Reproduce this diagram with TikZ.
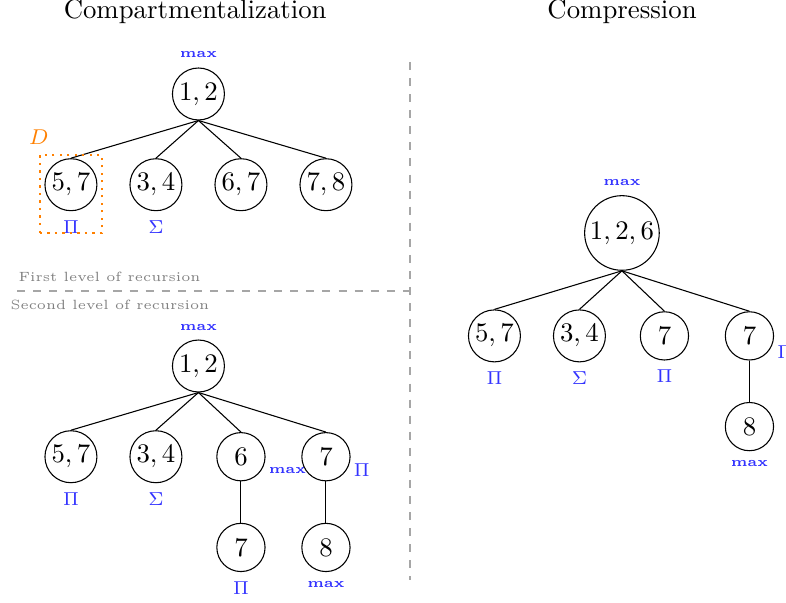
\documentclass[tikz,border=0pt]{standalone}
\usetikzlibrary{positioning}
\tikzset{
  vtx/.style={circle,draw,minimum size=18pt,inner sep=1pt},
  opl/.style={font=\scriptsize,text=blue!80},
  mxl/.style={font=\tiny,text=blue!80},
  sidel/.style={inner sep=1pt,yshift=-5pt},
  sepline/.style={gray!70,dashed},
  lvl/.style={font=\tiny,text=gray,inner sep=0pt,anchor=west},
  dbox/.style={draw=orange,dotted,thick,inner sep=0pt,minimum width=0.813cm,minimum height=1.023cm}
}
\newcommand{\mx}{$\mathbf{max}$}
\begin{document}
\begin{tikzpicture}
\def\dx{1.115}
\def\dy{1.19}
\def\dyr{1.35}
\useasboundingbox (0,0) rectangle (10.31,7.909);
\node (t1) at (2.56,7.75) {Compartmentalization};
\node (t2) at (8.16,7.75) {Compression};
\begin{scope}[shift={(2.603,6.676)}]
\node[vtx,label={[mxl]above:\mx}] (a) at (0,0) {$1,2$};
\node[vtx,label={[opl]below:$\Pi$}] (a1) at (-1.5*\dx,-\dy) {$5,7$};
\node[vtx,label={[opl]below:$\Sigma$}] (a2) at (-0.5*\dx,-\dy) {$3,4$};
\node[vtx] (a3) at (0.5*\dx,-\dy) {$6,7$};
\node[vtx] (a4) at (1.5*\dx,-\dy) {$7,8$};
\foreach \c in {a1,a2,a3,a4}
  \draw (a.south) -- (\c.north);
\end{scope}
\node[dbox,label={[text=orange,font=\footnotesize,anchor=south]north west:$D$}] (d) at ([yshift=-0.12cm]a1.center) {};
\coordinate (v1) at (5.378,7.096);
\coordinate (v2) at (5.378,0.302);
\coordinate (h1) at (0.223,4.092);
\draw[sepline] (v1) -- (v2);
\draw[sepline] (h1) -- (h1 -| v1);
\node[lvl] (l1) at (0.236,4.276) {First level of recursion};
\node[lvl] (l2) at (0.131,3.909) {Second level of recursion};
\begin{scope}[shift={(2.603,3.108)}]
\node[vtx,label={[mxl]above:\mx}] (b) at (0,0) {$1,2$};
\node[vtx,label={[opl]below:$\Pi$}] (b1) at (-1.5*\dx,-\dy) {$5,7$};
\node[vtx,label={[opl]below:$\Sigma$}] (b2) at (-0.5*\dx,-\dy) {$3,4$};
\node[vtx,label={[mxl,sidel]right:\mx}] (b3) at (0.5*\dx,-\dy) {$6$};
\node[vtx,label={[opl,sidel]right:$\Pi$}] (b4) at (1.5*\dx,-\dy) {$7$};
\node[vtx,label={[opl]below:$\Pi$}] (b31) at (0.5*\dx,-2*\dy) {$7$};
\node[vtx,label={[mxl]below:\mx}] (b41) at (1.5*\dx,-2*\dy) {$8$};
\foreach \c in {b1,b2,b3,b4}
  \draw (b.south) -- (\c.north);
\draw (b3) -- (b31);
\draw (b4) -- (b41);
\end{scope}
\begin{scope}[shift={(8.158,4.853)}]
\node[vtx,label={[mxl]above:\mx}] (c) at (0,0) {$1,2,6$};
\node[vtx,label={[opl]below:$\Pi$}] (c1) at (-1.5*\dx,-\dyr) {$5,7$};
\node[vtx,label={[opl]below:$\Sigma$}] (c2) at (-0.5*\dx,-\dyr) {$3,4$};
\node[vtx,label={[opl]below:$\Pi$}] (c3) at (0.5*\dx,-\dyr) {$7$};
\node[vtx,label={[opl,sidel,yshift=-1pt]right:$\Pi$}] (c4) at (1.5*\dx,-\dyr) {$7$};
\node[vtx,label={[mxl]below:\mx}] (c41) at (1.5*\dx,-\dyr-\dy) {$8$};
\foreach \c in {c1,c2,c3,c4}
  \draw (c.south) -- (\c.north);
\draw (c4) -- (c41);
\end{scope}
\end{tikzpicture}
\end{document}
